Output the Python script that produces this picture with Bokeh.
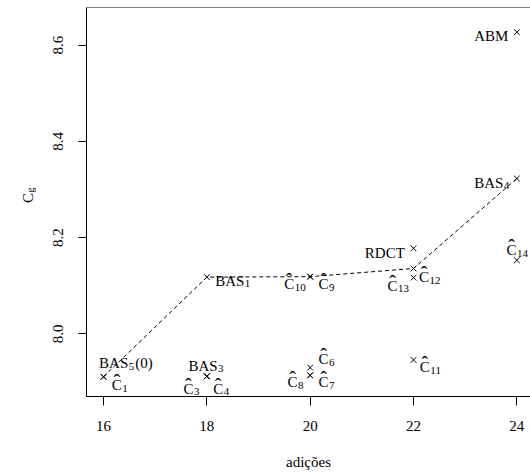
import math
from bokeh.plotting import figure
from bokeh.layouts import row
from bokeh.models import ColumnDataSource, FixedTicker, Range1d, Span
from bokeh.core.properties import value
from bokeh.embed import file_html
from bokeh.resources import INLINE

# ---------------- data ----------------
labels = ["BAS_5(0)", "^C_1", "BAS_1", "BAS_3", "^C_3", "^C_4", "^C_10", "^C_9",
          "^C_6", "^C_8", "^C_7", "RDCT", "^C_12", "^C_13", "^C_11", "^C_14",
          "BAS_4", "ABM"]
point_x = [16, 16, 18, 18, 18, 18, 20, 20, 20, 20, 20, 22, 22, 22, 22, 24, 24, 24]
point_y = [7.911, 7.911, 8.118, 7.912, 7.912, 7.912, 8.119, 8.119, 7.930, 7.914,
           7.914, 8.178, 8.136, 8.117, 7.946, 8.153, 8.323, 8.627]
path_x = [16, 18, 20, 22, 24]
path_y = [7.911, 8.118, 8.119, 8.136, 8.323]
x_ticks = [16, 18, 20, 22, 24]
y_ticks = [8.0, 8.2, 8.4, 8.6]
y_tick_labels = ["8.0", "8.2", "8.4", "8.6"]
x_title = "adições"
y_title_main = "C"
y_title_sub = "g"

# ---------------- label placement (screen px: left edge, baseline) ----------------
label_dx = [-4.4, 8.3, 8.3, -18.4, -23.4, 6.3, -26.0, 8.4, 8.4, -22.6, 8.4, -48.7,
            5.6, -26.0, 6.3, -10.3, -42.7, -42.7]
label_dy = [-13.6, 8.7, 3.7, -10.7, 12.3, 12.3, 7.6, 7.6, -8.3, 6.7, 6.7, 4.4,
            9.0, 8.3, 7.4, -10.3, 4.4, 4.3]

FONT = "Liberation Serif"
MAIN = 15
SUB = 11
W = {'A': 722, 'B': 667, 'C': 667, 'D': 722, 'M': 889, 'R': 667, 'S': 556,
     'T': 611, '(': 333, ')': 333}
for d in "0123456789":
    W[d] = 500


def tw(s, size):
    return sum(W.get(c, 500) for c in s) * size / 1000.0


def parse(lab):
    hat = lab.startswith("^")
    if hat:
        lab = lab[1:]
    if "_" in lab:
        main, tail = lab.split("_", 1)
        i = 0
        while i < len(tail) and tail[i].isdigit():
            i += 1
        sub, suf = tail[:i], tail[i:]
    else:
        main, sub, suf = lab, "", ""
    return hat, main, sub, suf


main_d = dict(x=[], y=[], text=[], xo=[], yo=[])
sub_d = dict(x=[], y=[], text=[], xo=[], yo=[])
hat_d = dict(x=[], y=[], text=[], xo=[], yo=[])
for lab, x, y, dx, dy in zip(labels, point_x, point_y, label_dx, label_dy):
    hat, main, sub, suf = parse(lab)
    main_d["x"].append(x); main_d["y"].append(y); main_d["text"].append(main)
    main_d["xo"].append(dx); main_d["yo"].append(dy)
    cur = dx + tw(main, MAIN)
    if hat:
        hat_d["x"].append(x); hat_d["y"].append(y); hat_d["text"].append("\u02c6")
        hat_d["xo"].append(dx + tw("C", MAIN) / 2.0); hat_d["yo"].append(dy - 3.0)
    if sub:
        cur += 0.5
        sub_d["x"].append(x); sub_d["y"].append(y); sub_d["text"].append(sub)
        sub_d["xo"].append(cur); sub_d["yo"].append(dy + 3)
        cur += tw(sub, SUB) + 1.0
    if suf:
        main_d["x"].append(x); main_d["y"].append(y); main_d["text"].append(suf)
        main_d["xo"].append(cur); main_d["yo"].append(dy)

# ---------------- geometry ----------------
H = 472
TOP, BOTTOM = 7, 75
LEFT_W = 36
X0, X1 = 15.671, 24.264
Y0 = 7.870
Y1 = Y0 + (H - TOP - BOTTOM) / 482.5
SY = (H - TOP - BOTTOM) / (Y1 - Y0)


def yd(py):
    return Y0 + (397 - py) / SY


yr = Range1d(Y0, Y1)

# ---------------- main figure ----------------
p = figure(width=530 - LEFT_W, height=H, x_range=Range1d(X0, X1), y_range=yr,
           output_backend="svg", toolbar_location=None,
           min_border_left=86 - LEFT_W, min_border_right=0, min_border_top=TOP,
           min_border_bottom=BOTTOM)
p.outline_line_color = None
p.xgrid.visible = False
p.ygrid.visible = False
p.background_fill_color = "white"
p.border_fill_color = "white"

for ax in (p.xaxis[0], p.yaxis[0]):
    ax.axis_line_color = "black"
    ax.axis_line_width = 1
    ax.major_tick_line_color = "black"
    ax.major_tick_in = 0
    ax.minor_tick_in = 0
    ax.minor_tick_out = 0
    ax.major_label_text_font = FONT
    ax.major_label_text_font_size = "15px"
    ax.major_label_text_color = "black"

p.xaxis.ticker = FixedTicker(ticks=x_ticks)
p.xaxis.major_tick_out = 9
p.xaxis.major_label_standoff = 15
p.xaxis.axis_label = x_title
p.xaxis.axis_label_text_font = FONT
p.xaxis.axis_label_text_font_size = "15px"
p.xaxis.axis_label_text_font_style = "normal"
p.xaxis.axis_label_text_color = "black"
p.xaxis.axis_label_standoff = 20

p.yaxis.ticker = FixedTicker(ticks=y_ticks)
p.yaxis.major_label_overrides = {t: s for t, s in zip(y_ticks, y_tick_labels)}
p.yaxis.major_tick_out = 8
p.yaxis.major_label_standoff = 15
p.yaxis.major_label_orientation = "vertical"

p.add_layout(Span(location=Y1, dimension="width", line_color="black", line_width=1))

# dashed path
p.line(path_x, path_y, line_color="black", line_width=1, line_dash="4 3")

# points
p.scatter(point_x, point_y, marker="x", size=8, line_color="black", line_width=1)

# point labels
common = dict(text_font=value(FONT), text_baseline="alphabetic", text_color="black")
p.text(x="x", y="y", text="text", x_offset="xo", y_offset="yo", text_align="left",
       source=ColumnDataSource(main_d), text_font_size="15px", **common)
p.text(x="x", y="y", text="text", x_offset="xo", y_offset="yo", text_align="left",
       source=ColumnDataSource(sub_d), text_font_size="11px", **common)
p.text(x="x", y="y", text="text", x_offset="xo", y_offset="yo", text_align="center",
       source=ColumnDataSource(hat_d), text_font_size="20px", **common)

# ---------------- y title strip (C with subscript g) ----------------
q = figure(width=LEFT_W, height=H, x_range=Range1d(0, LEFT_W), y_range=yr,
           output_backend="svg", toolbar_location=None,
           x_axis_location=None, y_axis_location=None,
           min_border_left=0, min_border_right=0, min_border_top=TOP,
           min_border_bottom=BOTTOM)
q.outline_line_color = None
q.xgrid.visible = False
q.ygrid.visible = False
q.background_fill_color = "white"
q.border_fill_color = "white"
q.text(x=[27], y=[yd(203)], text=[y_title_main], angle=math.pi / 2,
       text_font_size="15px", text_align="left", **common)
q.text(x=[29.5], y=[yd(192.5)], text=[y_title_sub], angle=math.pi / 2,
       text_font_size="10px", text_align="left", **common)

layout = row(q, p, spacing=0)
open("out.html", "w").write(file_html(layout, INLINE))
